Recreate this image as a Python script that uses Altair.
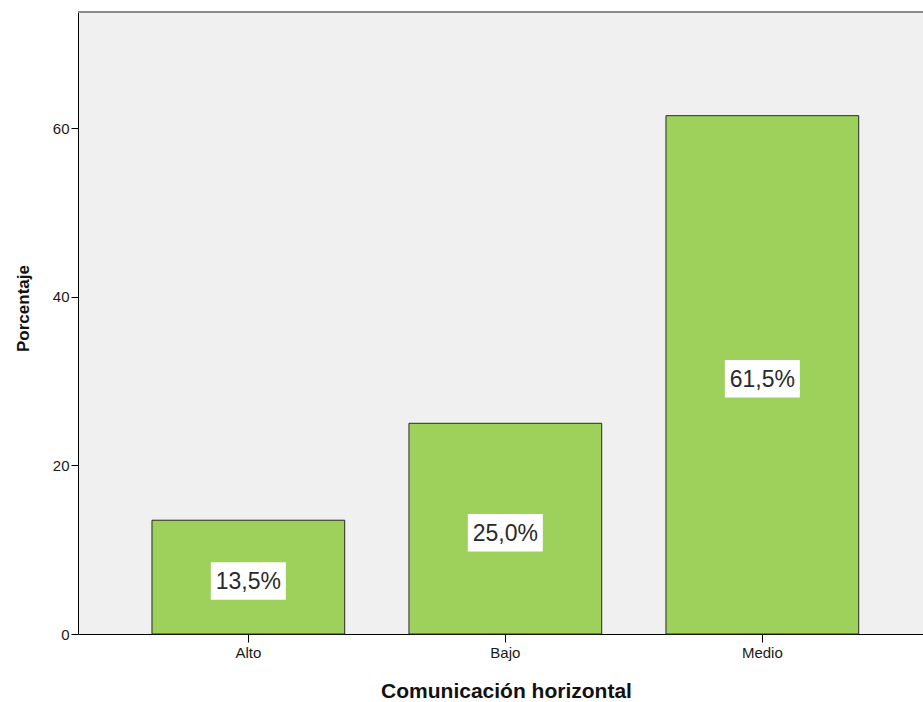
import altair as alt
import pandas as pd

categories = ["Alto", "Bajo", "Medio"]
percentages = [13.5, 25.0, 61.5]
labels = ["13,5%", "25,0%", "61,5%"]

df = pd.DataFrame({"cat": categories, "pct": percentages, "lab": labels})
df["mid"] = df["pct"] / 2

W, H = 845, 622
FONT = "Liberation Sans"

xscale = alt.Scale(domain=categories, paddingInner=0.25, paddingOuter=0.269, align=0.535)
yscale = alt.Scale(domain=[0, 73.8], nice=False)

x_enc = alt.X("cat:N", scale=xscale, sort=categories,
              axis=alt.Axis(title="Comunicación horizontal", labelAngle=0, labelFontSize=15,
                            labelFont=FONT, labelColor="#1a1a1a", tickSize=8, tickColor="#000",
                            domainColor="#000", labelPadding=3, titleFont=FONT,
                            titleFontSize=21, titleFontWeight="bold", titleColor="#111",
                            titleX=428, titleY=63, titleBaseline="alphabetic"))

bars = alt.Chart(df).mark_bar(color="#9ED05C", stroke="#2a2a2a", strokeWidth=1).encode(
    x=x_enc,
    y=alt.Y("pct:Q", scale=yscale,
            axis=alt.Axis(title="Porcentaje", values=[0, 20, 40, 60], grid=False,
                          labelFontSize=15, labelFont=FONT, labelColor="#1a1a1a",
                          tickSize=7, tickColor="#000", domainColor="#000",
                          labelPadding=2, titleFont=FONT, titleFontSize=17,
                          titleFontWeight="bold", titleColor="#111",
                          titleX=-50, titleY=296, titleBaseline="alphabetic",
                          titleAngle=270)),
)

boxes = alt.Chart(df).mark_point(
    shape="M-1,-0.5H1V0.5H-1Z", filled=True, fill="white", opacity=1, strokeWidth=0,
    size=5625, yOffset=4,
).encode(
    x=alt.X("cat:N", scale=xscale, sort=categories),
    y=alt.Y("mid:Q", scale=yscale),
)

texts = alt.Chart(df).mark_text(fontSize=23, font=FONT, color="#2a2a2a", baseline="middle",
                                dy=5).encode(
    x=alt.X("cat:N", scale=xscale, sort=categories),
    y=alt.Y("mid:Q", scale=yscale),
    text="lab:N",
)

top_line = alt.Chart(df).mark_rule(color="#8a8a8a", strokeWidth=2).encode(
    x=alt.value(0), x2=alt.value(W), y=alt.value(0)
)

chart = alt.layer(bars, boxes, texts, top_line).properties(
    width=W, height=H,
    autosize=alt.AutoSizeParams(type="none"),
    padding={"left": 78, "top": 12, "right": 0, "bottom": 68},
    background="white",
).configure_view(fill="#F0F0F0", stroke=None)

chart.save("out.html", embed_options={"renderer": "svg", "actions": False})
